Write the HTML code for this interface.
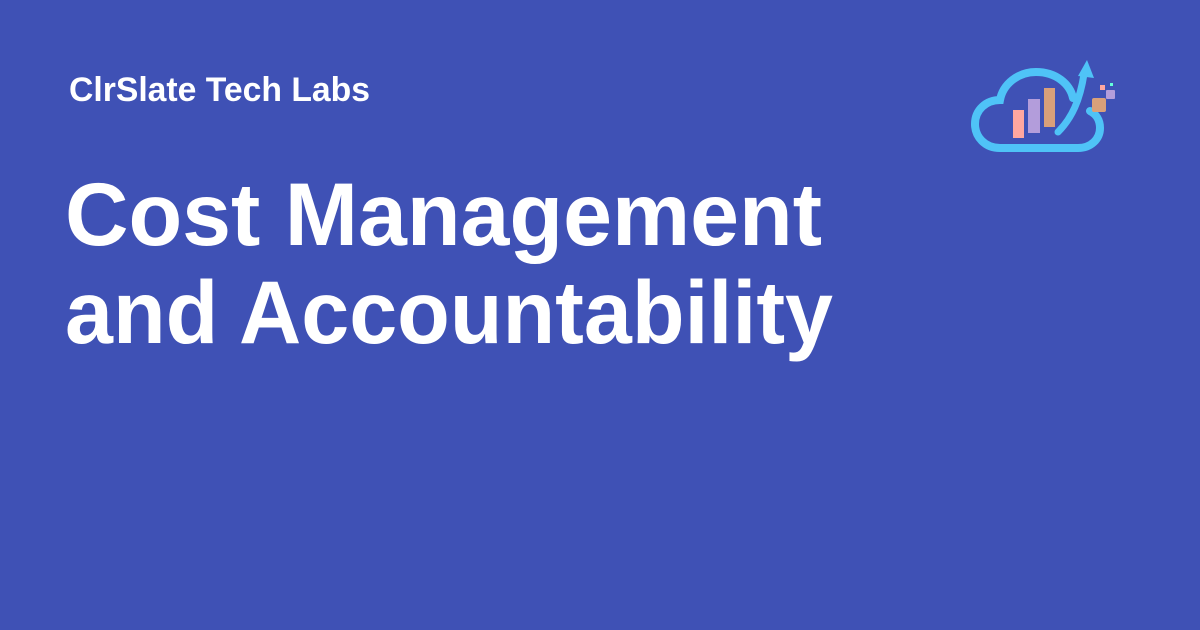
<!DOCTYPE html>
<html><head><meta charset="utf-8"><style>
html,body{margin:0;padding:0;}
body{width:1200px;height:630px;background:#3F51B5;overflow:hidden;}
svg{display:block}
text{font-family:"Liberation Sans",sans-serif;font-weight:bold;fill:#fff}
</style></head><body>
<svg width="1200" height="630" viewBox="0 0 1200 630">
<rect width="1200" height="630" fill="#3F51B5"/>
<text x="69" y="101" font-size="34" textLength="301" lengthAdjust="spacingAndGlyphs">ClrSlate Tech Labs</text>
<text x="65" y="245" font-size="89" textLength="757" lengthAdjust="spacingAndGlyphs">Cost Management</text>
<text x="65" y="343" font-size="89" textLength="768" lengthAdjust="spacingAndGlyphs">and Accountability</text>
<g>
<path d="M1030 148 H1000 C985 148 975 137 975 124 C975 110 986 100 1000 100 C1003 84 1018 72 1036 72 C1056 72 1070 84 1073 98" fill="none" stroke="#4FC3F7" stroke-width="8" stroke-linecap="round"/>
<path d="M1030 148 H1078 C1091 148 1100 139 1100 128 C1100 120 1096 114 1090 111" fill="none" stroke="#4FC3F7" stroke-width="8" stroke-linecap="round"/>
<path d="M1058 132 C1072 118 1080 100 1084 74" fill="none" stroke="#4FC3F7" stroke-width="7" stroke-linecap="round"/>
<polygon points="1087,60 1094,78 1078,76" fill="#4FC3F7"/>
<rect x="1013" y="110" width="11" height="28" fill="#FFA7A0"/>
<rect x="1028" y="99" width="12" height="34" fill="#B39DDB"/>
<rect x="1044" y="88" width="11" height="39" fill="#D9A07A"/>
<rect x="1092" y="98" width="14" height="14" rx="2" fill="#D9A07A"/>
<rect x="1106" y="90" width="9" height="9" rx="1" fill="#B39DDB"/>
<rect x="1100" y="85" width="5" height="5" fill="#FFA7A0"/>
<rect x="1110" y="83" width="3" height="3" fill="#64FFDA"/>
</g>
</svg>
</body></html>
